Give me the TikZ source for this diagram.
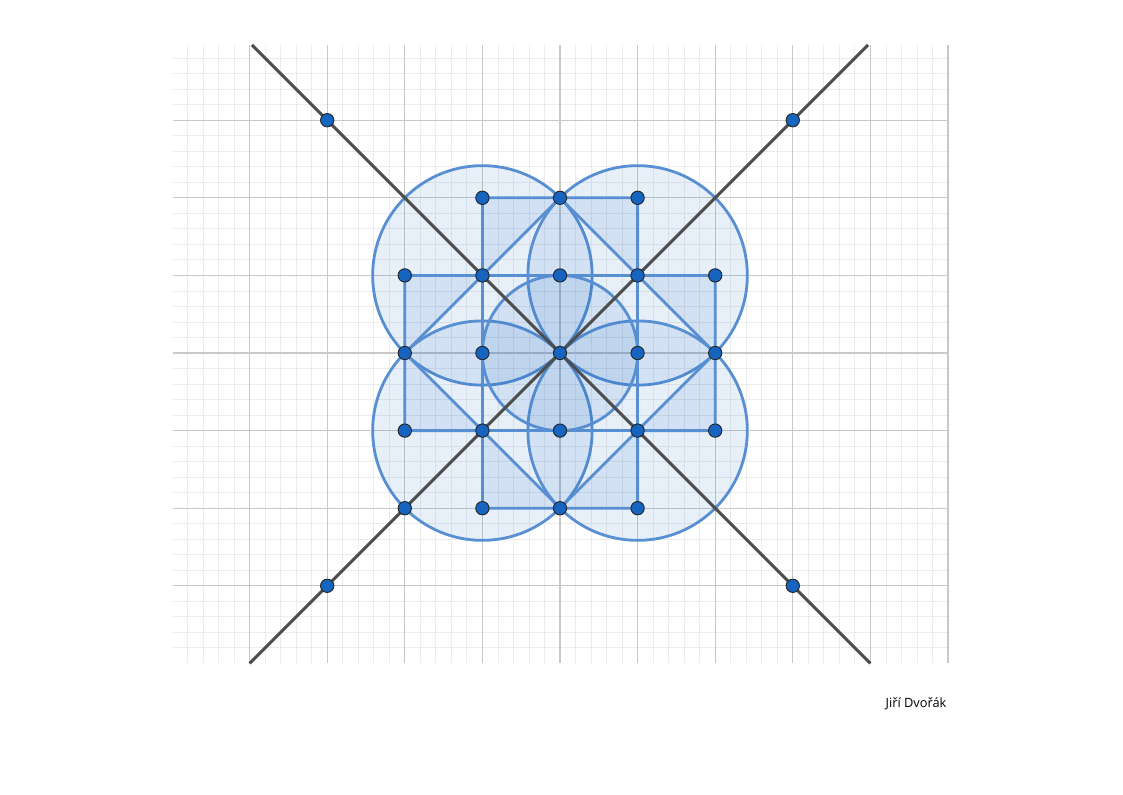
\documentclass[tikz,border=0pt]{standalone}
\usepackage{fontspec}
\newfontfamily\sigfont{Open Sans}
\definecolor{ggblue}{RGB}{21,101,192}
\definecolor{ggline}{RGB}{88,143,211}
\definecolor{ggdark}{RGB}{77,77,77}
\definecolor{gridmaj}{RGB}{200,200,200}
\definecolor{gridmin}{RGB}{236,236,236}
\begin{document}
\begin{tikzpicture}[x=58.2pt,y=58.2pt,
  circ/.style={draw=ggline, line width=2.1pt, fill=ggblue, fill opacity=0.1},
  polyshape/.style={draw=ggline, line width=2.1pt, line join=round, fill=ggblue, fill opacity=0.1},
  seg/.style={draw=ggline, line width=2.1pt, line join=round},
  axisline/.style={draw=ggdark, line width=2.2pt},
  pt/.style={circle, fill=ggblue, draw=black!85, line width=0.7pt, inner sep=0pt, minimum size=10pt}]
\useasboundingbox (-420pt,-330.75pt) rectangle (422.25pt,264.75pt);
% grid
\draw[gridmin, line width=0.6pt, step=0.2] (-4.99,-3.99) grid (5.01,3.97);
\draw[gridmaj, line width=0.9pt, step=1] (-4.99,-3.99) grid (5.01,3.97);
% coordinates
\foreach \x in {-3,...,3}{
  \foreach \y in {-3,...,3}{
    \coordinate (c\x\y) at (\x,\y);
  }
}
\coordinate (d1a) at (-4,-4);
\coordinate (d1b) at (3.97,3.97);
\coordinate (d2a) at (-3.97,3.97);
\coordinate (d2b) at (4,-4);
% circles
\draw[circ] (c-11) circle (1.41421);
\draw[circ] (c11) circle (1.41421);
\draw[circ] (c-1-1) circle (1.41421);
\draw[circ] (c1-1) circle (1.41421);
\draw[circ] (c00) circle (1);
% polygons
\draw[polyshape] (c02) -- (c-12) -- (c-11) -- (c-21) -- (c-20) -- cycle;
\draw[polyshape] (c02) -- (c12) -- (c11) -- (c21) -- (c20) -- cycle;
\draw[polyshape] (c-20) -- (c-2-1) -- (c-1-1) -- (c-1-2) -- (c0-2) -- cycle;
\draw[polyshape] (c20) -- (c2-1) -- (c1-1) -- (c1-2) -- (c0-2) -- cycle;
\draw[seg] (c-11) -- (c11) -- (c1-1) -- (c-1-1) -- cycle;
% diagonal lines
\draw[axisline] (d1a) -- (d1b);
\draw[axisline] (d2a) -- (d2b);
% points
\foreach \p in {-33,33,-3-3,3-3,-12,02,12,-21,-11,01,11,21,-20,-10,00,10,20,-2-1,-1-1,0-1,1-1,2-1,-2-2,-1-2,0-2,1-2}{
  \node[pt] (P\p) at (c\p) {};
}
\node[anchor=base east, inner sep=0pt, font=\sigfont\fontsize{9.6}{11}\selectfont] (sig) at (290pt,-265.5pt) {Jiří Dvořák};
\end{tikzpicture}
\end{document}
